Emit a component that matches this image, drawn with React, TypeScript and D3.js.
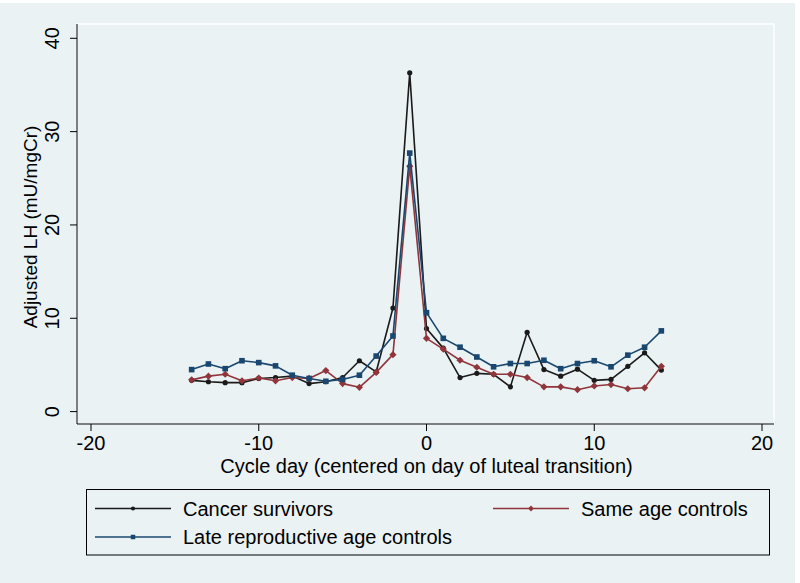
import React from "react";
import * as d3 from "d3";

const days = d3.range(-14, 15);
const cancerSurvivors = [3.35, 3.2, 3.1, 3.1, 3.55, 3.65, 3.8, 3.0, 3.2, 3.65, 5.45, 4.25, 11.1, 36.3, 8.9, 6.8, 3.65, 4.1, 4.0, 2.65, 8.5, 4.5, 3.8, 4.55, 3.35, 3.45, 4.85, 6.3, 4.45];
const sameAgeControls = [3.4, 3.8, 4.0, 3.3, 3.6, 3.3, 3.65, 3.55, 4.4, 3.0, 2.6, 4.2, 6.1, 26.3, 7.85, 6.7, 5.5, 4.75, 4.0, 4.0, 3.65, 2.65, 2.65, 2.35, 2.75, 2.9, 2.45, 2.55, 4.85];
const lateReproductive = [4.5, 5.1, 4.6, 5.45, 5.25, 4.9, 3.9, 3.55, 3.25, 3.45, 3.9, 5.95, 8.1, 27.7, 10.6, 7.85, 6.9, 5.85, 4.8, 5.15, 5.15, 5.5, 4.6, 5.15, 5.45, 4.8, 6.05, 6.9, 8.65];
const xTicks = [-20, -10, 0, 10, 20];
const yTicks = [0, 10, 20, 30, 40];

const seriesNames = ["Cancer survivors", "Same age controls", "Late reproductive age controls"];
const seriesColors = ["#1a1a1a", "#90353b", "#1a476f"];
const seriesShapes = ["circle", "diamond", "square"];

const W = 800, H = 583;
const BG = "#eaf2f3";
const FONT = "'Liberation Sans', Arial, sans-serif";

export default function App() {
  const x = d3.scaleLinear().domain([-20, 20]).range([91, 762]);
  const y = d3.scaleLinear().domain([0, 40]).range([411.6, 38.3]);
  const plot = { left: 77, right: 774, top: 24, bottom: 424 };

  const series = [cancerSurvivors, sameAgeControls, lateReproductive];
  const line = d3.line<number>().x((_, i) => x(days[i])).y((v) => y(v));

  const marker = (shape: string, cx: number, cy: number, color: string, key: string, s = 1) => {
    if (shape === "circle") return <circle key={key} cx={cx} cy={cy} r={2.6 * s} fill={color} />;
    if (shape === "square") {
      const h = 2.8 * s;
      return <rect key={key} x={cx - h} y={cy - h} width={2 * h} height={2 * h} fill={color} />;
    }
    const h = 3.6 * s;
    return <path key={key} d={`M${cx},${cy - h}L${cx + h},${cy}L${cx},${cy + h}L${cx - h},${cy}Z`} fill={color} />;
  };

  const legendItems = [
    { idx: 0, lx: 95, ly: 508.5 },
    { idx: 1, lx: 493, ly: 508.5 },
    { idx: 2, lx: 95, ly: 537 },
  ];

  return (
    <svg width={W} height={H} style={{ position: "absolute", left: 0, top: 0, fontFamily: FONT }}>
      <rect x={0} y={0} width={W} height={H} fill="#ffffff" />
      <rect x={0} y={3} width={795} height={H - 3} fill={BG} />
      {/* plot region outline */}
      <rect x={plot.left} y={plot.top} width={plot.right - plot.left} height={plot.bottom - plot.top} fill={BG} stroke="#ffffff" strokeWidth={1.5} />

      {/* series */}
      {series.map((vals, si) => (
        <g key={si}>
          <path d={line(vals) || ""} fill="none" stroke={seriesColors[si]} strokeWidth={1.6} strokeLinejoin="round" />
          {vals.map((v, i) => marker(seriesShapes[si], x(days[i]), y(v), seriesColors[si], `${si}-${i}`))}
        </g>
      ))}

      {/* axes */}
      <line x1={plot.left} x2={plot.left} y1={plot.top} y2={plot.bottom} stroke="#000" strokeWidth={1} />
      <line x1={plot.left} x2={plot.right} y1={plot.bottom} y2={plot.bottom} stroke="#000" strokeWidth={1} />
      {yTicks.map((t) => (
        <g key={`y${t}`}>
          <line x1={plot.left - 7} x2={plot.left} y1={y(t)} y2={y(t)} stroke="#000" strokeWidth={1} />
          <text transform={`translate(59,${y(t)}) rotate(-90)`} textAnchor="middle" fontSize={20} fill="#000">{t}</text>
        </g>
      ))}
      {xTicks.map((t) => (
        <g key={`x${t}`}>
          <line x1={x(t)} x2={x(t)} y1={plot.bottom} y2={plot.bottom + 7} stroke="#000" strokeWidth={1} />
          <text x={x(t)} y={450} textAnchor="middle" fontSize={20} fill="#000">{t < 0 ? `-${Math.abs(t)}` : t}</text>
        </g>
      ))}
      <text transform={`translate(37,227) rotate(-90)`} textAnchor="middle" fontSize={19} fill="#000">Adjusted LH (mU/mgCr)</text>
      <text x={426.5} y={473} textAnchor="middle" fontSize={20} fill="#000">Cycle day (centered on day of luteal transition)</text>

      {/* legend */}
      <rect x={86.5} y={489.5} width={683} height={65.5} fill={BG} stroke="#000" strokeWidth={1} />
      {legendItems.map((it) => (
        <g key={`l${it.idx}`}>
          <line x1={it.lx} x2={it.lx + 76} y1={it.ly} y2={it.ly} stroke={seriesColors[it.idx]} strokeWidth={1.6} />
          {marker(seriesShapes[it.idx], it.lx + 38, it.ly, seriesColors[it.idx], `lm${it.idx}`, 0.8)}
          <text x={it.lx + 88} y={it.ly + 7} fontSize={20} fill="#000">{seriesNames[it.idx]}</text>
        </g>
      ))}
    </svg>
  );
}
